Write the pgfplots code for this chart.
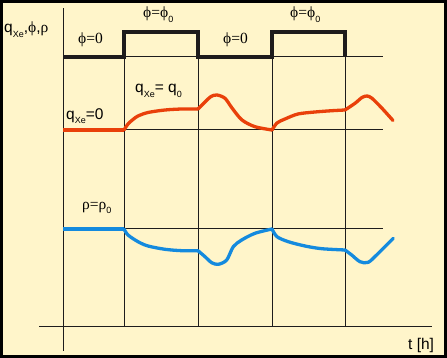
\documentclass[border=0pt]{standalone}
\usepackage{pgfplots}
\pgfplotsset{compat=1.18}
\usepackage{fontspec}
\setmainfont{Liberation Sans}
\newfontfamily\sym{Liberation Serif}
\definecolor{bgc}{RGB}{255,245,202}
\definecolor{redc}{RGB}{233,64,10}
\definecolor{bluec}{RGB}{20,138,222}
\definecolor{ink}{RGB}{30,28,28}
\newcommand{\sub}[1]{\raisebox{-0.28em}{\fontsize{9}{9}\selectfont #1}}
\tikzset{lbl/.style={inner sep=0pt, anchor=base west, font=\fontsize{15.5}{18}\selectfont}}
\begin{document}
\begin{tikzpicture}
\begin{axis}[
  scale only axis, width=447pt, height=358pt,
  xmin=-63, xmax=384, ymin=-31, ymax=327,
  hide axis, clip=false,
]
\path (axis cs:-63,-31) rectangle (axis cs:384,327);
\draw[line width=3pt, fill=bgc] (axis cs:-61.5,-29.5) rectangle (axis cs:382.5,325.5);
% axes
\addplot[ink, line width=1pt] coordinates {(0,-24) (0,319)};
\addplot[ink, line width=1pt] coordinates {(-24,0) (369,0)};
% horizontal reference lines
\addplot[ink, line width=1pt] coordinates {(0,270) (320,270)};
\addplot[ink, line width=1pt] coordinates {(0,197) (320,197)};
\addplot[ink, line width=1pt] coordinates {(0,98) (320,98)};
% vertical lines
\addplot[ink, line width=1pt] coordinates {(61,0) (61,270)};
\addplot[ink, line width=1pt] coordinates {(135,0) (135,270)};
\addplot[ink, line width=1pt] coordinates {(209,0) (209,270)};
\addplot[ink, line width=1pt] coordinates {(282,0) (282,270)};
% phi step
\addplot[ink, line width=3.5pt, line join=miter] coordinates {(0,270) (61,270) (61,295) (135,295) (135,270) (209,270) (209,295) (282,295) (282,270)};
% q_Xe
\addplot[redc, line width=3.3pt] coordinates {(0,197) (61,197)};
\addplot[redc, line width=3.3pt, smooth, line cap=round] coordinates {(61,197) (65,203) (70,207.5) (75,211) (85,214.5) (102,217) (119,218) (135,218)};
\addplot[redc, line width=3.3pt, smooth, line cap=round] coordinates {(135,218) (142,225) (148,230.5) (154,232) (162,228.7) (169,219) (179,207) (192,200.3) (209,197)};
\addplot[redc, line width=3.3pt, smooth, line cap=round] coordinates {(209,197) (214,204) (222,208) (235,213) (252,215) (269,216.3) (282,217)};
\addplot[redc, line width=3.3pt, smooth, line cap=round] coordinates {(282,217) (292,223.7) (299,229.5) (304,231) (309,228.7) (319,218.7) (330,206.5)};
% rho
\addplot[bluec, line width=3.3pt] coordinates {(0,98) (61,98)};
\addplot[bluec, line width=3.3pt, smooth, line cap=round] coordinates {(61,98) (65,92) (75,85.3) (85,81) (102,77.7) (119,76.3) (135,76.3)};
\addplot[bluec, line width=3.3pt, smooth, line cap=round] coordinates {(135,76.3) (142,70.3) (148.7,64.3) (155.3,62.7) (163.7,67) (170.3,80.3) (178.7,87) (192,93.7) (209,98)};
\addplot[bluec, line width=3.3pt, smooth, line cap=round] coordinates {(209,98) (214,90.3) (225.3,85.3) (242,81) (258.7,78.3) (282,77)};
\addplot[bluec, line width=3.3pt, smooth, line cap=round] coordinates {(282,77) (288.7,72) (297,65.3) (305.3,64.7) (315.3,73.7) (330.3,88.7)};
% labels
\node[lbl] at (axis cs:-59,294) {q\sub{Xe},{\sym ϕ},{\sym ρ}};
\node[lbl] at (axis cs:15,283) {{\sym ϕ=0}};
\node[lbl] at (axis cs:80,309) {{\sym ϕ=ϕ}\sub{0}};
\node[lbl] at (axis cs:160,283) {{\sym ϕ=0}};
\node[lbl] at (axis cs:227,309) {{\sym ϕ=ϕ}\sub{0}};
\node[lbl] at (axis cs:3,207.5) {q\sub{Xe}=0};
\node[lbl] at (axis cs:72,234) {q\sub{Xe}= q\sub{0}};
\node[lbl] at (axis cs:19,117.5) {{\sym ρ=ρ}\sub{0}};
\node[lbl] at (axis cs:345,-23) {t [h]};
\end{axis}
\end{tikzpicture}
\end{document}
